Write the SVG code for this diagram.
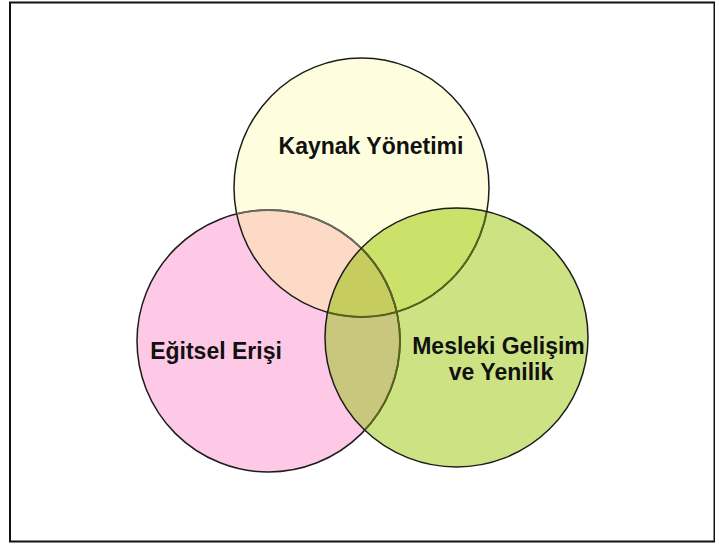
<svg xmlns="http://www.w3.org/2000/svg" width="715" height="548" viewBox="0 0 715 548">
  <style>
    .label { font-family: "Liberation Sans", Arial, sans-serif; font-size: 23px; font-weight: bold; fill: #111; text-anchor: middle; }
    .edge { fill: none; stroke: #1c1c1c; stroke-width: 1.5; }
    .edge-in-green { fill: none; stroke: #56631c; stroke-width: 1.9; }
    .edge-in-yellow { fill: none; stroke: #6a6a62; stroke-width: 1.8; }
  </style>
  <defs>
    <ellipse id="shapeTop" cx="361.5" cy="187.5" rx="127.5" ry="129.5"/>
    <ellipse id="shapeLeft" cx="268.5" cy="341" rx="131.5" ry="131"/>
    <ellipse id="shapeRight" cx="456.5" cy="337.5" rx="131.5" ry="129.5"/>
    <clipPath id="inTop"><use href="#shapeTop"/></clipPath>
    <clipPath id="inLeft"><use href="#shapeLeft"/></clipPath>
    <clipPath id="inRight"><use href="#shapeRight"/></clipPath>
  </defs>

  <!-- page -->
  <rect x="0" y="0" width="715" height="548" fill="#ffffff"/>
  <rect x="10" y="2.5" width="704.5" height="539" fill="none" stroke="#111" stroke-width="2"/>

  <!-- circles -->
  <g id="node-egitsel">
    <use href="#shapeLeft" fill="#fec9e6"/>
  </g>
  <g id="node-kaynak">
    <use href="#shapeTop" fill="#fefedf"/>
  </g>
  <g id="node-mesleki">
    <use href="#shapeRight" fill="#cde383"/>
  </g>

  <!-- overlap areas -->
  <g id="overlaps">
    <use href="#shapeTop" fill="#fcdac6" clip-path="url(#inLeft)"/>
    <use href="#shapeTop" fill="#cce169" clip-path="url(#inRight)"/>
    <use href="#shapeLeft" fill="#c9c67d" clip-path="url(#inRight)"/>
    <g clip-path="url(#inLeft)">
      <use href="#shapeTop" fill="#c7cc5e" clip-path="url(#inRight)"/>
    </g>
  </g>

  <!-- outlines -->
  <g id="outlines">
    <use href="#shapeLeft" class="edge"/>
    <use href="#shapeTop" class="edge"/>
    <use href="#shapeLeft" class="edge-in-yellow" clip-path="url(#inTop)"/>
    <use href="#shapeLeft" class="edge-in-green" clip-path="url(#inRight)"/>
    <use href="#shapeTop" class="edge-in-green" clip-path="url(#inRight)"/>
    <use href="#shapeRight" class="edge"/>
  </g>

  <!-- labels -->
  <g id="labels">
    <text class="label" x="371" y="154">Kaynak Yönetimi</text>
    <text class="label" x="216" y="359">Eğitsel Erişi</text>
    <text class="label" x="498.5" y="354">Mesleki Gelişim</text>
    <text class="label" x="501" y="380">ve Yenilik</text>
  </g>
</svg>
